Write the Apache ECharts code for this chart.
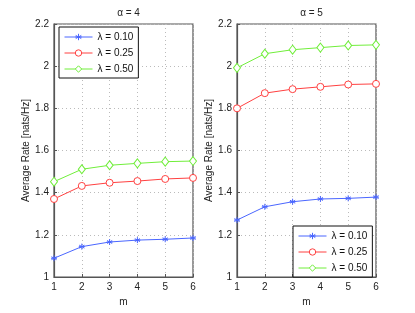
<!DOCTYPE html>
<html><head><meta charset="utf-8">
<script src="https://cdn.jsdelivr.net/npm/echarts@6/dist/echarts.min.js"></script>
<style>html,body{margin:0;padding:0;background:#fff}#c{width:415px;height:313px}</style>
</head><body><div id="c"></div>
<script>
const mValues = [1, 2, 3, 4, 5, 6];
const seriesNames = ['λ = 0.10', 'λ = 0.25', 'λ = 0.50'];
const panelTitles = ['α = 4', 'α = 5'];
// alpha = 4
const a4_l010 = [1.089, 1.144, 1.166, 1.175, 1.179, 1.185];
const a4_l025 = [1.370, 1.432, 1.447, 1.455, 1.465, 1.470];
const a4_l050 = [1.452, 1.511, 1.530, 1.539, 1.547, 1.550];
// alpha = 5
const a5_l010 = [1.270, 1.333, 1.357, 1.370, 1.373, 1.379];
const a5_l025 = [1.800, 1.872, 1.891, 1.902, 1.913, 1.916];
const a5_l050 = [1.992, 2.059, 2.078, 2.088, 2.098, 2.101];

const colors = ['#4a66ff', '#ff4040', '#70ee3a'];
const star = 'path://M0,-10L0,10M-8.66,-5L8.66,5M-8.66,5L8.66,-5M-10,0L10,0';
const symbols = [star, 'circle', 'diamond'];
const sizes = [6, 7, [7, 9]];
const font = 'Liberation Sans, Arial, sans-serif';

const grids = [
  {left: 54, right: 222, top: 24, bottom: 36},
  {left: 237, right: 39, top: 24, bottom: 36}
];
const nameGaps = [20, 21];
const chart = echarts.init(document.getElementById('c'));
const xAxes = [], yAxes = [], series = [];
grids.forEach((g, i) => {
  g.show = true; g.borderColor = '#555'; g.borderWidth = 1.2; g.containLabel = false;
  xAxes.push({
    type: 'value', gridIndex: i, min: 1, max: 6, interval: 1,
    name: 'm', nameLocation: 'middle', nameGap: 20,
    nameTextStyle: {color: '#222', fontSize: 10, fontFamily: font},
    axisLine: {show: true, lineStyle: {color: '#555', width: 1.2}},
    axisTick: {show: true, inside: true, length: 3, lineStyle: {color: '#555'}},
    axisLabel: {color: '#222', fontSize: 10, fontFamily: font, margin: 5},
    splitLine: {show: true, lineStyle: {color: '#bbb', type: [1, 3], width: 1}}
  });
  yAxes.push({
    type: 'value', gridIndex: i, min: 1, max: 2.2, interval: 0.2,
    name: 'Average Rate [nats/Hz]', nameLocation: 'middle', nameGap: nameGaps[i],
    nameTextStyle: {color: '#222', fontSize: 10, fontFamily: font},
    axisLine: {show: true, lineStyle: {color: '#555', width: 1.2}},
    axisTick: {show: true, inside: true, length: 3, lineStyle: {color: '#555'}},
    axisLabel: {color: '#222', fontSize: 10, fontFamily: font, margin: 5,
      formatter: v => String(Math.round(v * 10) / 10)},
    splitLine: {show: true, lineStyle: {color: '#bbb', type: [1, 3], width: 1}}
  });
});
const data = [[a4_l010, a4_l025, a4_l050], [a5_l010, a5_l025, a5_l050]];
data.forEach((panel, i) => {
  panel.forEach((vals, k) => {
    series.push({
      name: seriesNames[k], type: 'line', xAxisIndex: i, yAxisIndex: i,
      data: mValues.map((m, j) => [m, vals[j]]),
      symbol: symbols[k], symbolSize: sizes[k], showAllSymbol: true,
      lineStyle: {color: colors[k], width: 1},
      itemStyle: {color: k === 0 ? colors[k] : '#fff', borderColor: colors[k], borderWidth: 1},
      emphasis: {disabled: true}, animation: false
    });
  });
});
const legendCommon = {
  orient: 'vertical', data: seriesNames, itemWidth: 28, itemHeight: 8, itemGap: 6,
  backgroundColor: '#fff', borderColor: '#111', borderWidth: 1, padding: [5, 5, 4, 5],
  lineStyle: {width: 1}, itemStyle: {borderWidth: 1},
  textStyle: {color: '#111', fontSize: 10, fontFamily: font}, selectedMode: false
};
chart.setOption({
  animation: false,
  color: colors,
  title: [
    {text: panelTitles[0], left: 123.5, top: 3, textAlign: 'center',
     textStyle: {fontSize: 10, fontWeight: 'normal', color: '#222', fontFamily: font}},
    {text: panelTitles[1], left: 306.5, top: 3, textAlign: 'center',
     textStyle: {fontSize: 10, fontWeight: 'normal', color: '#222', fontFamily: font}}
  ],
  grid: grids, xAxis: xAxes, yAxis: yAxes, series: series,
  legend: [
    Object.assign({left: 59, top: 27}, legendCommon),
    Object.assign({left: 293, top: 226}, legendCommon)
  ]
});
</script></body></html>
